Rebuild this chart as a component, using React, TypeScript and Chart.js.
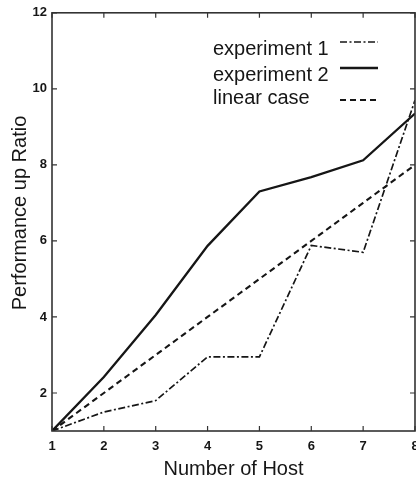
import React, { useEffect, useRef } from "react";
import { Chart, registerables } from "chart.js";

Chart.register(...registerables);

const hosts = [1, 2, 3, 4, 5, 6, 7, 8];
const experiment1 = [1, 1.5, 1.8, 2.95, 2.95, 5.88, 5.7, 9.7];
const experiment2 = [1, 2.42, 4.05, 5.87, 7.3, 7.68, 8.12, 9.35];
const linearCase = [1, 2, 3, 4, 5, 6, 7, 8];
const yTicks = [2, 4, 6, 8, 10, 12];
const seriesNames = ["experiment 1", "experiment 2", "linear case"];
const xTitle = "Number of Host";
const yTitle = "Performance up Ratio";

const INK = "#161616";
const FONT = "'Liberation Sans', Arial, Helvetica, sans-serif";

const dashes: number[][] = [[7, 2.5, 2, 2.5], [], [6, 4]];
const widths = [1.7, 2.3, 2.1];

const framePlugin = {
  id: "frameAndLegend",
  afterDraw(chart: any) {
    const { ctx, chartArea } = chart;
    const { left, right, top, bottom } = chartArea;
    const xs = chart.scales.x;
    const ys = chart.scales.y;
    ctx.save();
    ctx.strokeStyle = "#333";
    ctx.lineWidth = 1.6;
    ctx.setLineDash([]);
    ctx.strokeRect(left, top, right - left, bottom - top);
    ctx.lineWidth = 1.2;
    const tk = 5;
    hosts.forEach((h) => {
      const px = xs.getPixelForValue(h);
      ctx.beginPath();
      ctx.moveTo(px, bottom);
      ctx.lineTo(px, bottom - tk);
      ctx.moveTo(px, top);
      ctx.lineTo(px, top + tk);
      ctx.stroke();
    });
    yTicks.forEach((v) => {
      const py = ys.getPixelForValue(v);
      ctx.beginPath();
      ctx.moveTo(left, py);
      ctx.lineTo(left + tk, py);
      ctx.moveTo(right, py);
      ctx.lineTo(right - tk, py);
      ctx.stroke();
    });
    // y axis title
    ctx.font = `20px ${FONT}`;
    ctx.fillStyle = INK;
    ctx.save();
    ctx.translate(20, 213);
    ctx.rotate(-Math.PI / 2);
    ctx.textAlign = "center";
    ctx.textBaseline = "middle";
    ctx.fillText(yTitle, 0, 0);
    ctx.restore();
    // legend: text then line sample
    const textX = 213;
    const baselines = [55, 81, 104];
    const sampleY = [42, 68, 100];
    ctx.textAlign = "left";
    ctx.textBaseline = "alphabetic";
    seriesNames.forEach((name, i) => {
      ctx.fillText(name, textX, baselines[i]);
      ctx.beginPath();
      ctx.strokeStyle = INK;
      ctx.lineWidth = widths[i];
      ctx.setLineDash(dashes[i]);
      ctx.moveTo(340, sampleY[i]);
      ctx.lineTo(378, sampleY[i]);
      ctx.stroke();
    });
    ctx.restore();
  },
};

export default function App() {
  const ref = useRef<HTMLCanvasElement>(null);
  useEffect(() => {
    if (!ref.current) return;
    const series = [experiment1, experiment2, linearCase];
    const chart = new Chart(ref.current, {
      type: "line",
      data: {
        datasets: series.map((vals, i) => ({
          label: seriesNames[i],
          data: hosts.map((h, j) => ({ x: h, y: vals[j] })),
          borderColor: INK,
          borderWidth: widths[i],
          borderDash: dashes[i],
          pointRadius: 0,
          fill: false,
          tension: 0,
        })),
      },
      options: {
        responsive: false,
        animation: false,
        layout: { padding: { left: 0, top: 12, right: 25, bottom: 0 } },
        plugins: { legend: { display: false }, tooltip: { enabled: false } },
        scales: {
          x: {
            type: "linear",
            min: 1,
            max: 8,
            grid: { display: false, drawTicks: false },
            border: { display: false },
            afterFit: (s: any) => {
              s.height = 50;
            },
            afterBuildTicks: (s: any) => {
              s.ticks = hosts.map((v) => ({ value: v }));
            },
            ticks: {
              padding: 8,
              color: INK,
              font: { family: FONT, size: 13, weight: "bold" },
              maxRotation: 0,
            },
            title: {
              display: true,
              text: xTitle,
              color: INK,
              font: { family: FONT, size: 20 },
              padding: { top: 0, bottom: 0 },
            },
          },
          y: {
            type: "linear",
            min: 1,
            max: 12,
            grid: { display: false, drawTicks: false },
            border: { display: false },
            afterFit: (s: any) => {
              s.width = 52;
            },
            afterBuildTicks: (s: any) => {
              s.ticks = yTicks.map((v) => ({ value: v }));
            },
            ticks: {
              padding: 5,
              color: INK,
              font: { family: FONT, size: 13, weight: "bold" },
            },
          },
        },
      },
      plugins: [framePlugin],
    });
    return () => chart.destroy();
  }, []);
  return (
    <div
      style={{
        position: "fixed",
        left: 0,
        top: 0,
        width: 416,
        height: 481,
        overflow: "hidden",
        background: "#fff",
      }}
    >
      <canvas ref={ref} width={440} height={481} style={{ display: "block" }} />
    </div>
  );
}
